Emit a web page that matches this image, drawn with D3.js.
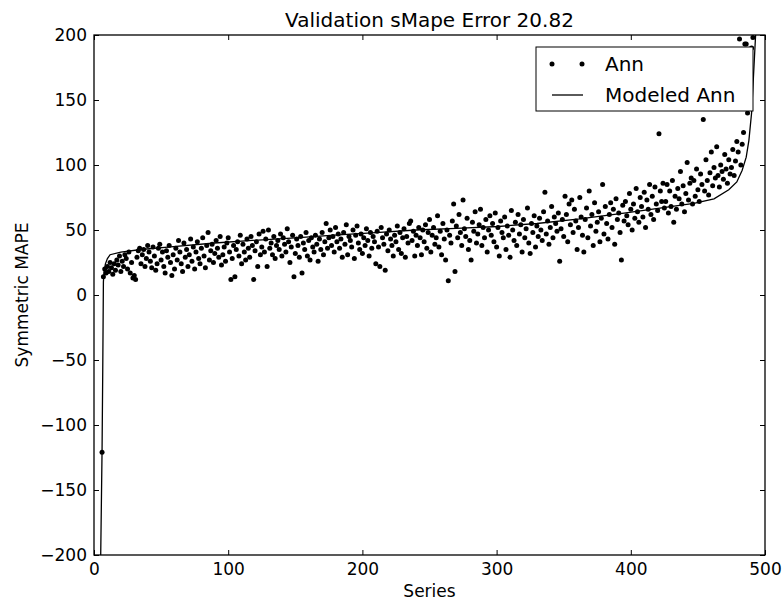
<!DOCTYPE html>
<html>
<head>
<meta charset="utf-8">
<script src="https://cdn.jsdelivr.net/npm/d3@7"></script>
<style>
    body { margin: 0; background: #fff; }
    text { font-family: 'DejaVu Sans', sans-serif; fill: #000; }
    .tick text { font-size: 17px; }
    .tick line { stroke: #000; stroke-width: 1; }
</style>
</head>
<body>
<div id="chart"></div>
<script>
// first series index that has a point
const SERIES_START = 6;

// Ann error per series
const annValues = [
    -121,
    14, 20, 17, 22, 18, 25, 21, 16, 24,
    19, 27, 23, 30, 18, 26, 22, 31, 28, 20,
    33, 17, 25, 13, 15, 12, 29, 34, 36, 24,
    31, 35, 22, 28, 38, 33, 26, 21, 37, 30,
    19, 24, 36, 39, 27, 33, 22, 17, 34, 29,
    38, 25, 15, 31, 20, 36, 27, 42, 33, 24,
    18, 40, 29, 35, 22, 31, 43, 26, 37, 20,
    33, 41, 28, 24, 36, 44, 30, 21, 38, 48,
    27, 34, 39, 25, 32, 42, 36, 29, 45, 23,
    31, 37, 26, 40, 44, 33, 12, 28, 38, 14,
    35, 41, 30, 46, 24, 39, 33, 27, 43, 36,
    29, 45, 38, 12, 34, 41, 22, 47, 31, 37,
    49, 33, 43, 22, 50, 36, 40, 31, 45, 28,
    38, 42, 35, 47, 30, 44, 39, 33, 51, 41,
    25, 37, 46, 14, 32, 43, 38, 29, 45, 17,
    40, 35, 48, 30, 42, 27, 44, 37, 33, 46,
    39, 26, 43, 35, 48, 31, 41, 55, 36, 44,
    50, 38, 45, 33, 52, 41, 47, 36, 43, 29,
    48, 39, 54, 31, 45, 42, 37, 50, 28, 46,
    53, 40, 35, 47, 32, 44, 38, 51, 42, 30,
    48, 36, 45, 41, 24, 49, 37, 22, 52, 44,
    39, 19, 47, 34, 50, 43, 38, 30, 46, 41,
    53, 35, 48, 32, 44, 51, 29, 45, 40, 55,
    57, 42, 49, 30, 46, 38, 52, 44, 31, 50,
    41, 54, 36, 48, 58, 33, 46, 52, 39, 44,
    61, 37, 49, 31, 55, 43, 27, 50, 11, 46,
    40, 57, 70, 18, 53, 44, 62, 48, 38, 73,
    51, 45, 59, 35, 42, 27, 56, 49, 64, 40,
    47, 54, 66, 38, 52, 44, 58, 33, 50, 61,
    46, 55, 41, 63, 37, 52, 30, 57, 48, 44,
    60, 35, 53, 46, 29, 65, 50, 42, 56, 38,
    62, 47, 54, 33, 58, 44, 51, 67, 40, 32,
    55, 48, 61, 37, 53, 45, 59, 50, 42, 64,
    79, 47, 57, 39, 52, 68, 44, 60, 55, 49,
    63, 26, 51, 58, 45, 76, 62, 41, 70, 54,
    73, 48, 66, 57, 35, 52, 75, 60, 46, 33,
    58, 67, 44, 80, 53, 62, 38, 71, 49, 56,
    64, 41, 59, 85, 47, 68, 55, 43, 62, 71,
    52, 66, 39, 74, 58, 63, 48, 27, 69, 57,
    72, 61, 54, 78, 66, 50, 70, 59, 82, 64,
    56, 75, 68, 60, 79, 52, 73, 66, 85, 62,
    76, 58, 83, 70, 65, 124, 80, 72, 86, 67,
    72, 85, 63, 80, 68, 88, 56, 76, 66, 82,
    74, 95, 70, 84, 64, 78, 102, 73, 86, 90,
    70, 88, 76, 97, 81, 72, 93, 85, 135, 80,
    104, 88, 77, 94, 110, 84, 98, 90, 114, 92,
    83, 100, 95, 89, 108, 97, 86, 104, 93, 98,
    112, 92, 103, 118, 110, 197, 100, 116, 125, 193,
    193, 140, 175, 160, 190, 198
];

// modeled curve (series, sMAPE)
const modelX = [5, 5.5, 6, 6.5, 7, 7.5, 8.5, 10, 12, 20, 35, 57, 90, 118, 150, 179, 210, 240, 270, 301,
    330, 362, 395, 423, 447, 462, 473, 479, 483, 486, 488, 490, 491, 492, 493];
const modelY = [-200, -160, -120, -60, 10, 18, 24, 28, 31, 33, 35, 37, 40, 42, 44, 46, 48, 50, 51.3, 52.7,
    55, 58.5, 63, 67, 70.5, 74, 81, 87, 96, 106, 119, 140, 160, 180, 200];

const xTicks = [0, 100, 200, 300, 400, 500];
const yTicks = [-200, -150, -100, -50, 0, 50, 100, 150, 200];

const TITLE = 'Validation sMape Error 20.82';
const X_LABEL = 'Series';
const Y_LABEL = 'Symmetric MAPE';
const LEGEND = ['Ann', 'Modeled Ann'];

const W = 783, H = 604;
const margin = { top: 35, right: 18, bottom: 49, left: 94 };
const TICK = 5;

const svg = d3.select('#chart')
    .append('svg')
    .attr('width', W)
    .attr('height', H);

const xScale = d3.scaleLinear().domain([0, 500]).range([margin.left, W - margin.right]);
const yScale = d3.scaleLinear().domain([-200, 200]).range([H - margin.bottom, margin.top]);

svg.append('clipPath')
    .attr('id', 'plot-clip')
    .append('rect')
    .attr('x', xScale(0))
    .attr('y', yScale(200))
    .attr('width', xScale(500) - xScale(0))
    .attr('height', yScale(-200) - yScale(200));

/** axes, ticks pointing inward on all four sides */
const axes = [
    { ax: d3.axisBottom(xScale).tickValues(xTicks).tickPadding(8), at: `translate(0, ${yScale(-200)})` },
    { ax: d3.axisLeft(yScale).tickValues(yTicks).tickPadding(7), at: `translate(${xScale(0)}, 0)` },
    { ax: d3.axisTop(xScale).tickValues(xTicks).tickFormat(''), at: `translate(0, ${yScale(200)})` },
    { ax: d3.axisRight(yScale).tickValues(yTicks).tickFormat(''), at: `translate(${xScale(500)}, 0)` }
];
axes.forEach((a) => {
    const g = svg.append('g')
        .attr('transform', a.at)
        .call(a.ax.tickSizeInner(-TICK).tickSizeOuter(0));
    g.select('.domain').remove();
});

/** modeled line */
const line = d3.line()
    .x((d) => xScale(d[0]))
    .y((d) => yScale(d[1]));

svg.append('path')
    .datum(d3.zip(modelX, modelY))
    .attr('clip-path', 'url(#plot-clip)')
    .attr('d', line)
    .style('fill', 'none')
    .style('stroke', '#000')
    .style('stroke-width', 1.3);

/** Ann points */
svg.append('g')
    .attr('clip-path', 'url(#plot-clip)')
    .selectAll('circle')
    .data(annValues)
    .enter()
    .append('circle')
    .attr('cx', (d, i) => xScale(SERIES_START + i))
    .attr('cy', (d) => yScale(d))
    .attr('r', 2.5)
    .style('fill', '#000');

/** frame */
svg.append('rect')
    .attr('x', xScale(0))
    .attr('y', yScale(200))
    .attr('width', xScale(500) - xScale(0))
    .attr('height', yScale(-200) - yScale(200))
    .style('fill', 'none')
    .style('stroke', '#000')
    .style('stroke-width', 1.3);

/** titles */
svg.append('text')
    .attr('x', (xScale(0) + xScale(500)) / 2)
    .attr('y', 27)
    .attr('text-anchor', 'middle')
    .style('font-size', '20px')
    .text(TITLE);

svg.append('text')
    .attr('x', (xScale(0) + xScale(500)) / 2)
    .attr('y', 597)
    .attr('text-anchor', 'middle')
    .style('font-size', '17px')
    .text(X_LABEL);

svg.append('text')
    .attr('transform', `translate(28, ${yScale(0)}) rotate(-90)`)
    .attr('text-anchor', 'middle')
    .style('font-size', '17px')
    .text(Y_LABEL);

/** legend */
const legend = svg.append('g').attr('transform', 'translate(536, 47)');
legend.append('rect')
    .attr('width', 217)
    .attr('height', 64)
    .style('fill', '#fff')
    .style('stroke', '#000')
    .style('stroke-width', 1);

legend.selectAll('circle')
    .data([16, 46])
    .enter()
    .append('circle')
    .attr('cx', (d) => d)
    .attr('cy', 17)
    .attr('r', 2.5)
    .style('fill', '#000');

legend.append('line')
    .attr('x1', 16).attr('x2', 47)
    .attr('y1', 48).attr('y2', 48)
    .style('stroke', '#000')
    .style('stroke-width', 1.3);

legend.selectAll('text')
    .data(LEGEND)
    .enter()
    .append('text')
    .attr('x', 69)
    .attr('y', (d, i) => 24 + i * 31)
    .style('font-size', '20px')
    .text((d) => d);
</script>
</body>
</html>
